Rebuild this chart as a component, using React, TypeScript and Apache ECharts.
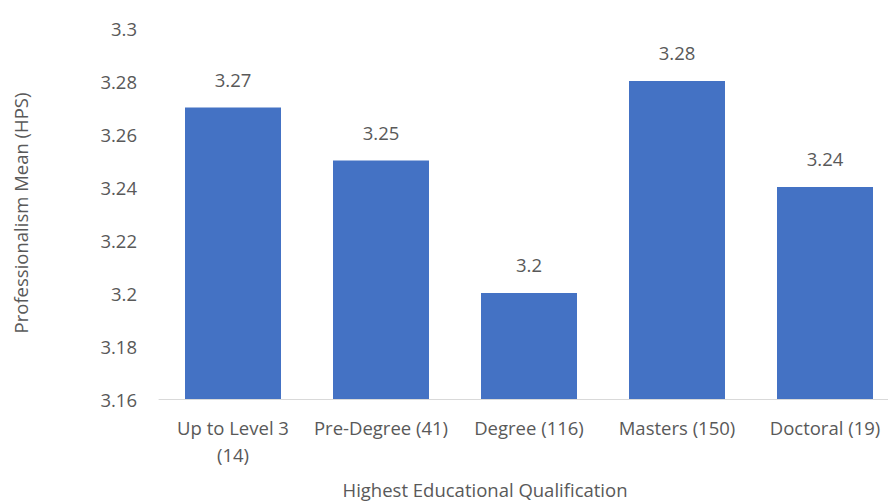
import React, { useEffect, useRef } from "react";
import * as echarts from "echarts";

const categories = ["Up to Level 3\n(14)", "Pre-Degree (41)", "Degree (116)", "Masters (150)", "Doctoral (19)"];
const values = [3.27, 3.25, 3.2, 3.28, 3.24];
const yMin = 3.16;
const yMax = 3.3;
const yInterval = 0.02;

const FONT = "'Open Sans', 'Noto Sans', sans-serif";
const GRAY = "#595959";
const FS = 18.5;

export default function App() {
  const ref = useRef<HTMLDivElement>(null);
  useEffect(() => {
    if (!ref.current) return;
    const chart = echarts.init(ref.current, undefined, { renderer: "svg" });
    chart.setOption({
      animation: false,
      backgroundColor: "#ffffff",
      grid: { left: 159, right: 0, top: 28, bottom: 105, containLabel: false },
      xAxis: {
        type: "category",
        data: categories,
        axisLine: { show: true, lineStyle: { color: "#D9D9D9", width: 1 } },
        axisTick: { show: false },
        axisLabel: { color: GRAY, fontFamily: FONT, fontSize: FS, margin: 15, lineHeight: 27, interval: 0 },
      },
      yAxis: {
        type: "value",
        min: yMin,
        max: yMax,
        interval: yInterval,
        splitLine: { show: false },
        axisLine: { show: false },
        axisTick: { show: false },
        axisLabel: {
          color: GRAY,
          fontFamily: FONT,
          fontSize: FS,
          margin: 22,
          formatter: (v: number) => String(parseFloat(v.toFixed(2))),
        },
      },
      series: [
        {
          type: "bar",
          data: values,
          barWidth: 96,
          itemStyle: { color: "#4472C4" },
          label: {
            show: true,
            position: "top",
            distance: 19,
            color: GRAY,
            fontFamily: FONT,
            fontSize: FS,
            formatter: (p: any) => String(p.value),
          },
        },
      ],
      graphic: [
        {
          type: "text",
          x: 20,
          y: 213,
          rotation: Math.PI / 2,
          style: {
            text: "Professionalism Mean (HPS)",
            fill: GRAY,
            font: `${FS}px ${FONT}`,
            align: "center",
            verticalAlign: "middle",
          },
        },
        {
          type: "text",
          x: 485,
          y: 489,
          style: {
            text: "Highest Educational Qualification",
            fill: GRAY,
            font: `${FS}px ${FONT}`,
            align: "center",
            verticalAlign: "middle",
          },
        },
      ],
    });
    return () => chart.dispose();
  }, []);
  return (
    <div style={{ width: 888, height: 504, position: "absolute", left: 0, top: 0, overflow: "hidden", background: "#fff" }}>
      <div ref={ref} style={{ width: 899, height: 504, position: "absolute", left: 0, top: 0 }} />
    </div>
  );
}
